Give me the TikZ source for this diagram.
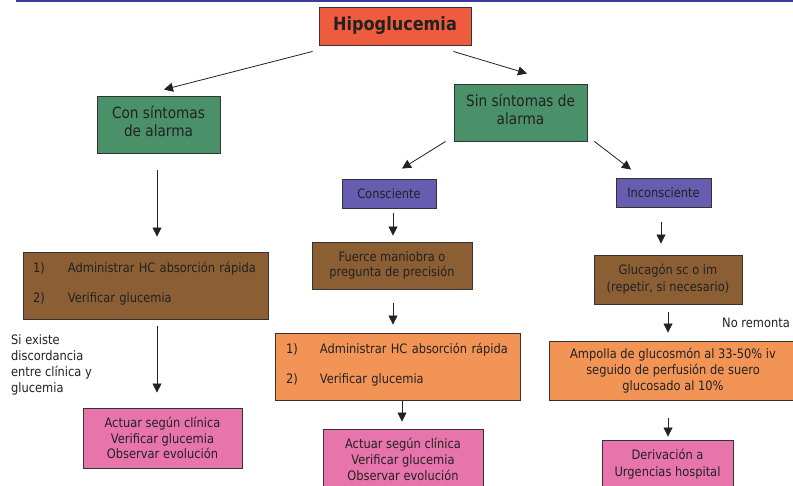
\documentclass[tikz,border=0pt]{standalone}
\usepackage{fontspec}
\setmainfont{DejaVu Sans}[FakeStretch=0.88]
\usetikzlibrary{arrows.meta,calc}
\definecolor{hred}{RGB}{239,91,61}
\definecolor{hgreen}{RGB}{74,144,104}
\definecolor{hpurple}{RGB}{102,92,176}
\definecolor{hbrown}{RGB}{139,94,52}
\definecolor{horange}{RGB}{242,148,85}
\definecolor{hpink}{RGB}{232,116,172}
\definecolor{hblue}{RGB}{58,58,160}
\definecolor{htext}{RGB}{34,34,34}
\newcommand{\dpfix}[1]{\rule[-#1]{0pt}{#1}}
\begin{document}
\begin{tikzpicture}[x=1pt,y=-1pt,
  box/.style={draw=black!80, line width=0.9pt, text=htext, inner sep=0pt, align=center},
  body/.style={font=\fontsize{13}{16}\selectfont},
  title/.style={font=\fontsize{15.5}{18.5}\selectfont},
  items/.style={font=\fontsize{13}{30}\selectfont, align=left},
  arr/.style={-{Triangle[length=9pt,width=9pt]}, line width=0.8pt, draw=htext}]
\clip (0,0) rectangle (793,486);
\fill[white] (0,0) rectangle (793,486);
\draw[hblue, line width=1.5pt] (16,1) -- (793,1);

\node[box, fill=hred, minimum width=152pt, minimum height=38pt,
      font=\bfseries\fontsize{18.3}{22}\selectfont] (hipo) at (395,26) {Hipoglucemia};
\node[box, title, fill=hgreen, minimum width=123pt, minimum height=57pt] (con) at (158.5,124.5) {Con síntomas\\de alarma\dpfix{6pt}};
\node[box, title, fill=hgreen, minimum width=133pt, minimum height=57pt] (sin) at (520.5,112.5) {Sin síntomas de\\alarma\dpfix{6pt}};
\node[box, body, fill=hpurple, minimum width=94pt, minimum height=29pt] (consc) at (389,193.5) {Consciente};
\node[box, body, fill=hpurple, minimum width=95pt, minimum height=29pt] (incon) at (663.5,192.5) {Inconsciente};

\node[box, items, fill=hbrown, text width=225pt, inner xsep=10pt, minimum height=67pt] (brown1) at (145.5,285.5)
  {\makebox[35pt][l]{1)}Administrar HC absorción rápida\\\makebox[35pt][l]{2)}Verificar glucemia\dpfix{7pt}};
\node[box, body, fill=hbrown, minimum width=160pt, minimum height=47pt, font=\fontsize{13}{15.5}\selectfont] (fuerce) at (392,265.5)
  {Fuerce maniobra o\\pregunta de precisión};
\node[box, body, fill=hbrown, minimum width=148pt, minimum height=49pt, font=\fontsize{13}{17}\selectfont] (gluc) at (668,279.5)
  {Glucagón sc o im\\(repetir, si necesario)};

\node[box, body, fill=hpink, minimum width=159pt, minimum height=60pt, font=\fontsize{13}{15.5}\selectfont] (pink1) at (162.5,438)
  {Actuar según clínica\\Verificar glucemia\\Observar evolución};
\node[box, items, fill=horange, text width=223pt, inner xsep=11pt, minimum height=67pt] (orange2) at (397.5,366.5)
  {\makebox[34pt][l]{1)}Administrar HC absorción rápida\\\makebox[34pt][l]{2)}Verificar glucemia\dpfix{7pt}};
\node[box, body, fill=hpink, minimum width=160pt, minimum height=60pt, font=\fontsize{13}{16}\selectfont] (pink2) at (403,459)
  {Actuar según clínica\\Verificar glucemia\\Observar evolución};
\node[box, body, fill=horange, minimum width=248pt, minimum height=59pt] (ampolla) at (673,370.5)
  {Ampolla de glucosmón al 33-50\% iv\\seguido de perfusión de suero\\glucosado al 10\%};
\node[box, body, fill=hpink, minimum width=131pt, minimum height=49pt, font=\fontsize{13}{17}\selectfont] (deriv) at (667.5,464.5)
  {Derivación a\\Urgencias hospital};

\node[body, text=htext, align=left, anchor=north west, inner sep=0pt] (side) at (11,334)
  {Si existe\\discordancia\\entre clínica y\\glucemia};
\node[body, text=htext, inner sep=0pt] (noremonta) at (756,323) {No remonta};

\draw[arr] ($(hipo.south west)+(-6,6)$) -- ($(con.north)+(5.5,-6)$);
\draw[arr] ($(hipo.south east)+(-18,6)$) -- ($(sin.north)+(6.5,-10)$);
\draw[arr] ($(sin.south west)+(-8,0)$) -- ($(consc.north)+(13,-10)$);
\draw[arr] ($(sin.south east)+(7,0)$) -- ($(incon.north)+(-32.5,-8)$);
\draw[arr] ($(con.south)+(-1.5,17)$) -- ($(brown1.north)+(11.5,-15)$);
\draw[arr] ($(consc.south)+(4,5)$) -- ($(fuerce.north)+(1,-6)$);
\draw[arr] ($(incon.south)+(-2.5,15)$) -- ($(gluc.north)+(-7,-11)$);
\draw[arr] ($(brown1.south)+(11.5,7)$) -- ($(pink1.north)+(-5.5,-15)$);
\draw[arr] ($(fuerce.south)+(1,14)$) -- ($(orange2.north)+(-4.5,-8)$);
\draw[arr] ($(orange2.south)+(4.5,0)$) -- ($(pink2.north)+(-1,-7)$);
\draw[arr] ($(gluc.south)+(0,8)$) -- ($(ampolla.north)+(-5,-8)$);
\draw[arr] ($(ampolla.south)+(-5,18)$) -- ($(deriv.north)+(0.5,-3)$);
\end{tikzpicture}
\end{document}
